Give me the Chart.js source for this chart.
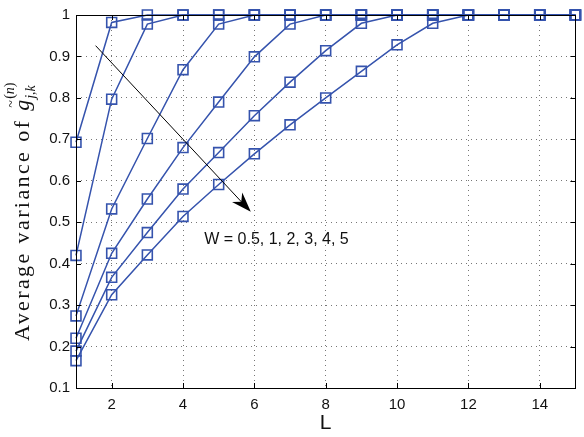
<!DOCTYPE html>
<html>
<head>
<meta charset="utf-8">
<script src="https://cdn.jsdelivr.net/npm/chart.js@4"></script>
<style>
  html, body { margin: 0; padding: 0; background: #fff; }
  #wrap { width: 584px; height: 437px; }
</style>
</head>
<body>
<div id="wrap"><canvas id="chart"></canvas></div>
<script>
// L values on the x axis
const lValues = [1, 2, 3, 4, 5, 6, 7, 8, 9, 10, 11, 12, 13, 14, 15];

// average variance, one series per W (0.5, 1, 2, 3, 4, 5)
const seriesW05 = [0.693, 0.982, 1, 1, 1, 1, 1, 1, 1, 1, 1, 1, 1, 1, 1];
const seriesW1 = [0.420, 0.797, 0.978, 1, 1, 1, 1, 1, 1, 1, 1, 1, 1, 1, 1];
const seriesW2 = [0.274, 0.532, 0.702, 0.868, 0.978, 1, 1, 1, 1, 1, 1, 1, 1, 1, 1];
const seriesW3 = [0.220, 0.425, 0.556, 0.680, 0.790, 0.899, 0.978, 1, 1, 1, 1, 1, 1, 1, 1];
const seriesW4 = [0.189, 0.367, 0.475, 0.580, 0.668, 0.757, 0.838, 0.914, 0.980, 1, 1, 1, 1, 1, 1];
const seriesW5 = [0.166, 0.325, 0.421, 0.514, 0.591, 0.665, 0.735, 0.800, 0.864, 0.928, 0.980, 1, 1, 1, 1];

const xTicks = [2, 4, 6, 8, 10, 12, 14];
const yTicks = [0.1, 0.2, 0.3, 0.4, 0.5, 0.6, 0.7, 0.8, 0.9, 1];

// annotation: arrow from -> to (data coords) and its caption
const arrowFrom = [1.55, 0.926];
const arrowTo = [5.9, 0.525];
const arrowText = "W = 0.5, 1, 2, 3, 4, 5";
const arrowTextAt = [6.62, 0.458];

const yLabelMain = "Average variance of ";
const xLabel = "L";

const blue = "#3553ad";
const allSeries = [seriesW05, seriesW1, seriesW2, seriesW3, seriesW4, seriesW5];

const datasets = allSeries.map((vals) => ({
  data: lValues.map((x, i) => ({ x, y: vals[i] })),
  borderColor: blue,
  borderWidth: 1.5,
  pointStyle: "rect",
  pointRadius: 7,
  pointBorderWidth: 1.6,
  pointBorderColor: blue,
  pointBackgroundColor: "rgba(0,0,0,0)",
  tension: 0,
  clip: false
}));

const framePlugin = {
  id: "frame",
  afterDatasetsDraw(chart) {
    const { ctx, chartArea: a, scales } = chart;
    ctx.save();
    ctx.strokeStyle = "#000";
    ctx.lineWidth = 1;
    ctx.strokeRect(Math.round(a.left) + 0.5, Math.round(a.top) + 0.5, Math.round(a.right - a.left), Math.round(a.bottom - a.top));
    // inward tick marks
    ctx.beginPath();
    xTicks.forEach((t) => {
      const px = Math.round(scales.x.getPixelForValue(t)) + 0.5;
      ctx.moveTo(px, a.bottom); ctx.lineTo(px, a.bottom - 5);
      ctx.moveTo(px, a.top); ctx.lineTo(px, a.top + 5);
    });
    yTicks.forEach((t) => {
      const py = Math.round(scales.y.getPixelForValue(t)) + 0.5;
      ctx.moveTo(a.left, py); ctx.lineTo(a.left + 5, py);
      ctx.moveTo(a.right, py); ctx.lineTo(a.right - 5, py);
    });
    ctx.stroke();

    // arrow
    const x0 = scales.x.getPixelForValue(arrowFrom[0]);
    const y0 = scales.y.getPixelForValue(arrowFrom[1]);
    const x1 = scales.x.getPixelForValue(arrowTo[0]);
    const y1 = scales.y.getPixelForValue(arrowTo[1]);
    const ang = Math.atan2(y1 - y0, x1 - x0);
    const headLen = 20, headW = 7;
    const bx = x1 - headLen * Math.cos(ang), by = y1 - headLen * Math.sin(ang);
    ctx.beginPath();
    ctx.moveTo(x0, y0);
    ctx.lineTo(x1 - 10 * Math.cos(ang), y1 - 10 * Math.sin(ang));
    ctx.strokeStyle = "#000";
    ctx.lineWidth = 1;
    ctx.stroke();
    const nx = -Math.sin(ang), ny = Math.cos(ang);
    const mx = x1 - 0.7 * headLen * Math.cos(ang), my = y1 - 0.7 * headLen * Math.sin(ang);
    ctx.beginPath();
    ctx.moveTo(x1, y1);
    ctx.lineTo(bx + nx * headW, by + ny * headW);
    ctx.lineTo(mx, my);
    ctx.lineTo(bx - nx * headW, by - ny * headW);
    ctx.closePath();
    ctx.fillStyle = "#000";
    ctx.fill();

    ctx.font = "16px 'Liberation Sans', Arial, sans-serif";
    ctx.fillStyle = "#111";
    ctx.textAlign = "center";
    ctx.textBaseline = "middle";
    ctx.fillText(arrowText, scales.x.getPixelForValue(arrowTextAt[0]), scales.y.getPixelForValue(arrowTextAt[1]));

    // y axis label, rotated, with g-tilde sub/superscripts; starts near the bottom of the plot
    const serif = "'Liberation Serif', 'Times New Roman', serif";
    const mainFont = "22px " + serif;
    const itFont = "italic 22px " + serif;
    const smallIt = "italic 14px " + serif;
    const smallUp = "14px " + serif;
    ctx.letterSpacing = "2.4px";
    ctx.translate(23, a.bottom - 47);
    ctx.rotate(-Math.PI / 2);
    ctx.textAlign = "left";
    ctx.textBaseline = "alphabetic";
    ctx.fillStyle = "#111";
    let x = 0;
    ctx.font = mainFont;
    ctx.fillText(yLabelMain, x, 6);
    x += ctx.measureText(yLabelMain).width;
    ctx.letterSpacing = "0px";
    ctx.font = itFont;
    ctx.fillText("g", x, 6);
    const wg = ctx.measureText("g").width;
    ctx.font = smallUp;
    ctx.fillText("~", x + 3, -7);
    x += wg + 1;
    ctx.font = smallIt;
    ctx.fillText("j,k", x, 12);
    ctx.font = smallUp;
    ctx.fillText("(", x, -9);
    let xs = x + ctx.measureText("(").width;
    ctx.font = smallIt;
    ctx.fillText("n", xs, -9);
    xs += ctx.measureText("n").width;
    ctx.font = smallUp;
    ctx.fillText(")", xs, -9);
    ctx.restore();
  }
};

new Chart(document.getElementById("chart"), {
  type: "line",
  data: { datasets },
  options: {
    responsive: true,
    maintainAspectRatio: false,
    animation: false,
    layout: { padding: { top: 11, right: 7, left: 0, bottom: 0 } },
    plugins: { legend: { display: false }, tooltip: { enabled: false } },
    scales: {
      x: {
        type: "linear",
        min: 1,
        max: 15,
        afterBuildTicks: (s) => { s.ticks = xTicks.map((v) => ({ value: v })); },
        afterFit: (s) => { s.height = 49; },
        grid: { color: "#777", drawTicks: false },
        border: { display: false, dash: [1, 4] },
        ticks: { color: "#111", padding: 8, font: { family: "'Liberation Sans', Arial, sans-serif", size: 15 } },
        title: { display: true, text: xLabel, color: "#111", padding: { top: 0, bottom: 1 }, font: { family: "'Liberation Sans', Arial, sans-serif", size: 21 } }
      },
      y: {
        min: 0.1,
        max: 1,
        afterBuildTicks: (s) => { s.ticks = yTicks.map((v) => ({ value: v })); },
        afterFit: (s) => { s.width = 76; },
        grid: { color: "#777", drawTicks: false },
        border: { display: false, dash: [1, 4] },
        ticks: {
          color: "#111",
          padding: 6,
          font: { family: "'Liberation Sans', Arial, sans-serif", size: 15 },
          callback: (v) => (v === 1 ? "1" : v.toFixed(1))
        }
      }
    }
  },
  plugins: [framePlugin]
});
</script>
</body>
</html>
